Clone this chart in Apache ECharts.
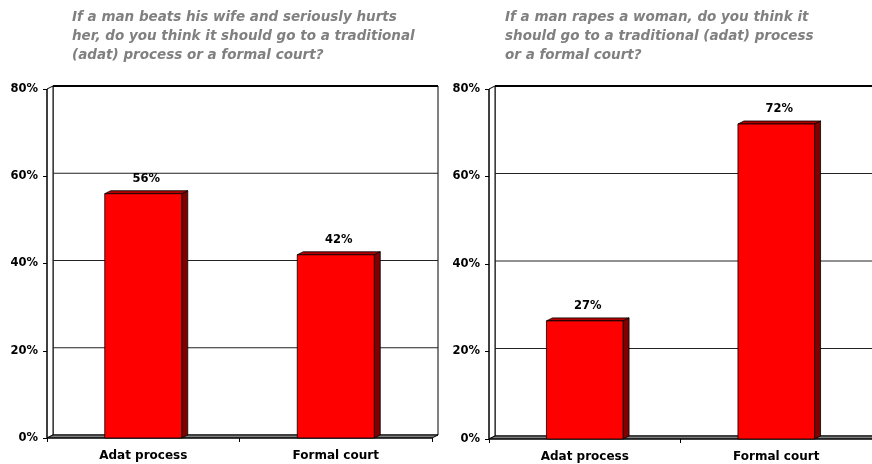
<!DOCTYPE html>
<html>
<head>
<meta charset="utf-8">
<script src="https://cdn.jsdelivr.net/npm/echarts@6/dist/echarts.min.js"></script>
<style>
  html, body { margin: 0; padding: 0; background: #ffffff; }
  #chart { width: 872px; height: 464px; }
</style>
</head>
<body>
<div id="chart"></div>
<script>
// Survey answers: where should the case be handled?
const categories = ['Adat process', 'Formal court'];
const wifeBeatingShares = [56, 42];
const rapeShares = [27, 72];
const yTickValues = [0, 20, 40, 60, 80];
const titleWifeBeating = 'If a man beats his wife and seriously hurts\nher, do you think it should go to a traditional\n(adat) process or a formal court?';
const titleRape = 'If a man rapes a woman, do you think it\nshould go to a traditional (adat) process\nor a formal court?';

// depth of the pseudo-3D walls and bars (pixels)
const DX = 6, DY = -3;
const FONT = '"DejaVu Sans", Verdana, sans-serif';

const chart = echarts.init(document.getElementById('chart'), null, { renderer: 'canvas' });

function bar3d(params, api) {
  const idx = api.value(0);
  const val = api.value(1);
  const topPt = api.coord([idx, val]);
  const basePt = api.coord([idx, 0]);
  const w = api.size([1, 0])[0] * 0.40;
  const l = topPt[0] - w / 2, r = topPt[0] + w / 2;
  const t = topPt[1], b = basePt[1];
  const edge = { stroke: '#000000', lineWidth: 0.8 };
  return {
    type: 'group',
    children: [
      { type: 'polygon', shape: { points: [[r, t], [r + DX, t + DY], [r + DX, b + DY], [r, b]] },
        style: Object.assign({ fill: '#800000' }, edge) },
      { type: 'polygon', shape: { points: [[l, t], [l + DX, t + DY], [r + DX, t + DY], [r, t]] },
        style: Object.assign({ fill: '#B00000' }, edge) },
      { type: 'rect', shape: { x: l, y: t, width: w, height: b - t },
        style: Object.assign({ fill: '#FF0000' }, edge) },
      { type: 'text', x: (l + r + DX) / 2, y: t + DY - 6,
        style: { text: val + '%', align: 'center', verticalAlign: 'bottom',
                 font: 'bold 11.5px ' + FONT, fill: '#000000' } }
    ]
  };
}

function makeXAxis(gridIndex) {
  return {
    type: 'category', gridIndex, data: categories,
    axisLine: { show: false },
    axisTick: { show: true, length: 4, lineStyle: { color: '#000', width: 1 } },
    axisLabel: { color: '#000', fontFamily: FONT, fontWeight: 'bold', fontSize: 12, margin: 12 },
    splitLine: { show: false }
  };
}
function makeYAxis(gridIndex) {
  return {
    type: 'value', gridIndex, min: yTickValues[0], max: yTickValues[yTickValues.length - 1], interval: 20,
    axisLine: { show: false },
    axisTick: { show: true, length: 4, lineStyle: { color: '#000', width: 1 } },
    axisLabel: { color: '#000', fontFamily: FONT, fontWeight: 'bold', fontSize: 11.5, margin: 9,
                 formatter: v => v + '%' },
    splitLine: { show: false }
  };
}

const titleStyle = { color: '#808080', fontFamily: FONT, fontStyle: 'italic', fontWeight: 'bold',
                     fontSize: 13.5, lineHeight: 19 };

const option = {
  backgroundColor: '#ffffff',
  animation: false,
  title: [
    { text: titleWifeBeating, left: 67, top: 3, textStyle: titleStyle },
    { text: titleRape, left: 500, top: 3, textStyle: titleStyle }
  ],
  grid: [
    { left: 47, width: 385, top: 89, height: 349 },
    { left: 489, width: 386, top: 89, height: 350 }
  ],
  xAxis: [makeXAxis(0), makeXAxis(1)],
  yAxis: [makeYAxis(0), makeYAxis(1)],
  series: [
    { type: 'custom', xAxisIndex: 0, yAxisIndex: 0, z: 10, renderItem: bar3d,
      encode: { x: 0, y: 1 }, data: categories.map((c, i) => [i, wifeBeatingShares[i]]) },
    { type: 'custom', xAxisIndex: 1, yAxisIndex: 1, z: 10, renderItem: bar3d,
      encode: { x: 0, y: 1 }, data: categories.map((c, i) => [i, rapeShares[i]]) }
  ]
};
chart.setOption(option);

// Walls, floor and gridlines of each panel, placed from the axis scales.
function frameFor(gi) {
  const c0 = chart.convertToPixel({ xAxisIndex: gi }, 0);
  const c1 = chart.convertToPixel({ xAxisIndex: gi }, categories.length - 1);
  const band = (c1 - c0) / (categories.length - 1);
  const L = c0 - band / 2, R = c1 + band / 2;
  const yPix = v => chart.convertToPixel({ yAxisIndex: gi }, v);
  const B = yPix(yTickValues[0]), T = yPix(yTickValues[yTickValues.length - 1]);
  const els = [];
  els.push({ type: 'rect', z: 1, shape: { x: L + DX, y: T + DY, width: R - L, height: B - T },
             style: { fill: '#ffffff', stroke: '#000000', lineWidth: 1 } });
  els.push({ type: 'line', z: 2, shape: { x1: L + DX, y1: T + DY, x2: R + DX, y2: T + DY },
             style: { stroke: '#000000', lineWidth: 2 } });
  els.push({ type: 'polygon', z: 2, shape: { points: [[L, T], [L + DX, T + DY], [L + DX, B + DY], [L, B]] },
             style: { fill: '#ffffff', stroke: '#000000', lineWidth: 1 } });
  yTickValues.slice(1, -1).forEach(v => {
    const y = yPix(v) + DY;
    els.push({ type: 'line', z: 2, shape: { x1: L + DX, y1: y, x2: R + DX, y2: y },
               style: { stroke: '#222222', lineWidth: 1 } });
  });
  els.push({ type: 'polygon', z: 3, shape: { points: [[L, B], [L + DX, B + DY], [R + DX, B + DY], [R, B]] },
             style: { fill: '#808080', stroke: '#000000', lineWidth: 1 } });
  els.push({ type: 'line', z: 4, shape: { x1: L, y1: T, x2: L, y2: B },
             style: { stroke: '#000000', lineWidth: 1 } });
  els.push({ type: 'line', z: 4, shape: { x1: L, y1: B, x2: R, y2: B },
             style: { stroke: '#000000', lineWidth: 1 } });
  return els;
}
chart.setOption({ graphic: { elements: frameFor(0).concat(frameFor(1)) } });
</script>
</body>
</html>
